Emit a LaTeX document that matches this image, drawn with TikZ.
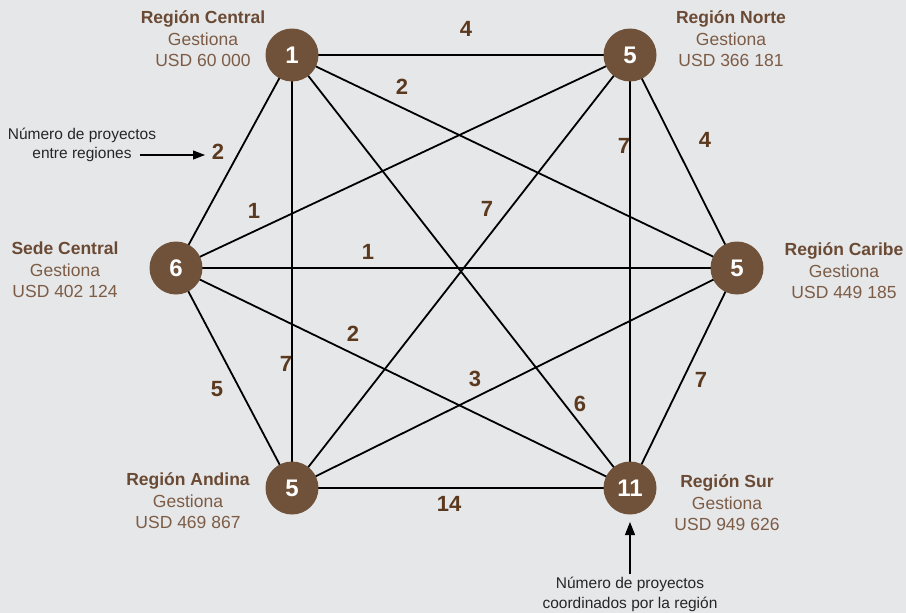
\documentclass[tikz,border=0pt]{standalone}
\usepackage{fontspec}
\setmainfont{Liberation Sans}
\usetikzlibrary{arrows.meta}

\definecolor{fondo}{HTML}{E6E7E8}
\definecolor{cafe}{HTML}{70513A}
\definecolor{cafetitulo}{HTML}{6A4A34}
\definecolor{cafetexto}{HTML}{7C5C46}
\definecolor{cafenum}{HTML}{5B391E}

\pgfdeclarelayer{capafondo}
\pgfdeclarelayer{capalineas}
\pgfsetlayers{capafondo,capalineas,main}

\tikzset{
    region/.style={circle, fill=cafe, minimum size=53pt, inner sep=0pt,
        text=white, font=\fontsize{24}{24}\selectfont\bfseries},
    etiqueta/.style={align=center, text=cafetexto,
        font=\fontsize{17.5}{21.5}\selectfont},
    cantidad/.style={text=cafenum, font=\fontsize{22}{22}\selectfont\bfseries},
    nota/.style={align=center, text=black!85, font=\fontsize{15.5}{19.5}\selectfont}
}

\begin{document}
\begin{tikzpicture}[x=1pt,y=-1pt]
    % fondo y marco
    \begin{pgfonlayer}{capafondo}
    \fill[fondo] (0,0) rectangle (906,613);
    \end{pgfonlayer}
    \useasboundingbox (0,0) rectangle (906,613);

    % Regiones:
    \node[region] (cen) at (292,55)  {1};
    \node[region] (nor) at (630,55)  {5};
    \node[region] (car) at (737,268) {5};
    \node[region] (sur) at (630,488) {11};
    \node[region] (and) at (292,488) {5};
    \node[region] (sed) at (176,268) {6};

    % Conexiones entre regiones (detras de los circulos):
    \begin{pgfonlayer}{capalineas}
    \begin{scope}[line width=1.8pt]
    \foreach \a/\b in {cen/nor, cen/car, cen/sur, cen/and, cen/sed,
                       nor/car, nor/sur, nor/and, nor/sed,
                       car/sur, car/and, car/sed,
                       sur/and, sur/sed, and/sed}
        \draw (\a.center) -- (\b.center);
    \end{scope}
    \end{pgfonlayer}

    % Cantidades en cada conexion:
    \node[cantidad] (qcn) at (466,29)  {4};
    \node[cantidad] (qcc) at (402,87)  {2};
    \node[cantidad] (qcs) at (218,152) {2};
    \node[cantidad] (qnc) at (705,140) {4};
    \node[cantidad] (qns) at (624,146) {7};
    \node[cantidad] (qna) at (487,209) {7};
    \node[cantidad] (qne) at (254,211) {1};
    \node[cantidad] (qec) at (368,252) {1};
    \node[cantidad] (qes) at (353,334) {2};
    \node[cantidad] (qca) at (286,364) {7};
    \node[cantidad] (qea) at (217,389) {5};
    \node[cantidad] (qra) at (475,379) {3};
    \node[cantidad] (qcu) at (580,404) {6};
    \node[cantidad] (qru) at (701,380) {7};
    \node[cantidad] (qas) at (449,504) {14};

    % Nombres y montos:
    \node[etiqueta] (tcen) at (203,39)
        {\textcolor{cafetitulo}{\bfseries Región Central}\\Gestiona\\USD 60 000};
    \node[etiqueta] (tnor) at (731,39)
        {\textcolor{cafetitulo}{\bfseries Región Norte}\\Gestiona\\USD 366 181};
    \node[etiqueta] (tsed) at (65,270)
        {\textcolor{cafetitulo}{\bfseries Sede Central}\\Gestiona\\USD 402 124};
    \node[etiqueta] (tcar) at (844,271)
        {\textcolor{cafetitulo}{\bfseries Región Caribe}\\Gestiona\\USD 449 185};
    \node[etiqueta] (tand) at (188,501)
        {\textcolor{cafetitulo}{\bfseries Región Andina}\\Gestiona\\USD 469 867};
    \node[etiqueta] (tsur) at (727,503)
        {\textcolor{cafetitulo}{\bfseries Región Sur}\\Gestiona\\USD 949 626};

    % Notas explicativas:
    \node[nota] (nota1) at (82,145) {Número de proyectos\\entre regiones};
    \coordinate (pnota1) at (140,155);
    \coordinate (fnota1) at (205,155);
    \draw[-{Triangle[length=12pt,width=9pt]}, line width=1.1pt] (pnota1) -- (fnota1);

    \node[nota, anchor=north] (nota2) at (630,574)
        {Número de proyectos\\coordinados por la región};
    \coordinate (fnota2) at (630,522);
    \draw[-{Triangle[length=13pt,width=10pt]}, line width=1.1pt] (nota2.north) -- (fnota2);
\end{tikzpicture}
\end{document}
